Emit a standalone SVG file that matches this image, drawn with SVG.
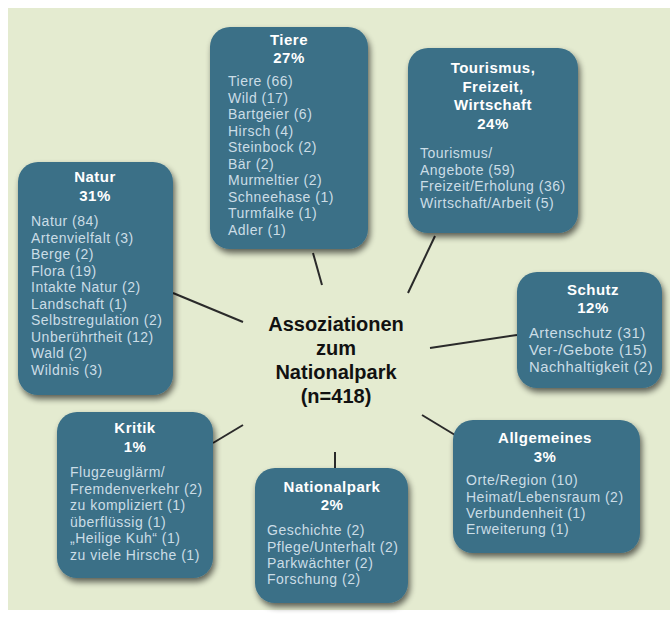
<svg xmlns="http://www.w3.org/2000/svg" width="670" height="621" viewBox="0 0 670 621">
<defs>
<filter id="sh" x="-10%" y="-10%" width="125%" height="125%">
<feGaussianBlur in="SourceAlpha" stdDeviation="3"/>
<feOffset dx="2" dy="4" result="b"/>
<feComponentTransfer><feFuncA type="linear" slope="0.6"/></feComponentTransfer>
<feMerge><feMergeNode/><feMergeNode in="SourceGraphic"/></feMerge>
</filter>
</defs>
<style>
.box{fill:#3a6f87;filter:url(#sh)}
.t{font-family:"Liberation Sans",Arial,sans-serif;font-weight:bold;font-size:15px;fill:#ffffff;text-anchor:middle;letter-spacing:0.5px}
.i{font-family:"Liberation Sans",Arial,sans-serif;font-size:14px;fill:#cbdde6;letter-spacing:0.5px}
.s{font-size:14.8px}
.c{font-family:"Liberation Sans",Arial,sans-serif;font-weight:bold;font-size:20px;fill:#111111;text-anchor:middle}
.ln{stroke:#2a2a2a;stroke-width:2;fill:none}
</style>
<rect x="0" y="0" width="670" height="621" fill="#ffffff"/>
<rect x="8" y="8" width="662" height="602" fill="#e4ebd0"/>

<g id="connectors">
<line class="ln" x1="313" y1="253" x2="322" y2="285"/>
<line class="ln" x1="435" y1="236" x2="408" y2="293"/>
<line class="ln" x1="173" y1="293" x2="243" y2="322"/>
<line class="ln" x1="430" y1="348" x2="517" y2="335"/>
<line class="ln" x1="213" y1="443" x2="243" y2="425"/>
<line class="ln" x1="335" y1="452" x2="335" y2="470"/>
<line class="ln" x1="422" y1="415" x2="455" y2="435"/>
</g>

<g id="center">
<text class="c" x="336" y="331">Assoziationen</text>
<text class="c" x="336" y="355">zum</text>
<text class="c" x="336" y="379">Nationalpark</text>
<text class="c" x="336" y="403">(n=418)</text>
</g>

<g id="tiere">
<rect class="box" x="210" y="27" width="158" height="222" rx="20"/>
<text class="t" x="289" y="45">Tiere</text>
<text class="t" x="289" y="63">27%</text>
<text class="i" x="228" y="86">Tiere (66)</text>
<text class="i" x="228" y="102.5">Wild (17)</text>
<text class="i" x="228" y="119">Bartgeier (6)</text>
<text class="i" x="228" y="135.5">Hirsch (4)</text>
<text class="i" x="228" y="152">Steinbock (2)</text>
<text class="i" x="228" y="168.5">Bär (2)</text>
<text class="i" x="228" y="185">Murmeltier (2)</text>
<text class="i" x="228" y="201.5">Schneehase (1)</text>
<text class="i" x="228" y="218">Turmfalke (1)</text>
<text class="i" x="228" y="234.5">Adler (1)</text>
</g>

<g id="tourismus">
<rect class="box" x="408" y="48" width="170" height="185" rx="20"/>
<text class="t" x="493" y="73">Tourismus,</text>
<text class="t" x="493" y="91.5">Freizeit,</text>
<text class="t" x="493" y="110">Wirtschaft</text>
<text class="t" x="493" y="128.5">24%</text>
<text class="i" x="420" y="158">Tourismus/</text>
<text class="i" x="420" y="174.5">Angebote (59)</text>
<text class="i" x="420" y="191">Freizeit/Erholung (36)</text>
<text class="i" x="420" y="207.5">Wirtschaft/Arbeit (5)</text>
</g>

<g id="natur">
<rect class="box" x="18" y="162" width="155" height="233" rx="20"/>
<text class="t" x="95" y="182">Natur</text>
<text class="t" x="95" y="201">31%</text>
<text class="i" x="31" y="226">Natur (84)</text>
<text class="i" x="31" y="242.5">Artenvielfalt (3)</text>
<text class="i" x="31" y="259">Berge (2)</text>
<text class="i" x="31" y="275.5">Flora (19)</text>
<text class="i" x="31" y="292">Intakte Natur (2)</text>
<text class="i" x="31" y="308.5">Landschaft (1)</text>
<text class="i" x="31" y="325">Selbstregulation (2)</text>
<text class="i" x="31" y="341.5">Unberührtheit (12)</text>
<text class="i" x="31" y="358">Wald (2)</text>
<text class="i" x="31" y="374.5">Wildnis (3)</text>
</g>

<g id="schutz">
<rect class="box" x="517" y="272" width="145" height="116" rx="20"/>
<text class="t" x="593" y="295">Schutz</text>
<text class="t" x="593" y="313">12%</text>
<text class="i s" x="529" y="338">Artenschutz (31)</text>
<text class="i s" x="529" y="355">Ver-/Gebote (15)</text>
<text class="i s" x="529" y="372">Nachhaltigkeit (2)</text>
</g>

<g id="kritik">
<rect class="box" x="57" y="412" width="156" height="166" rx="20"/>
<text class="t" x="135" y="433">Kritik</text>
<text class="t" x="135" y="452">1%</text>
<text class="i" x="70" y="477">Flugzeuglärm/</text>
<text class="i" x="70" y="493.5">Fremdenverkehr (2)</text>
<text class="i" x="70" y="510">zu kompliziert (1)</text>
<text class="i" x="70" y="526.5">überflüssig (1)</text>
<text class="i" x="70" y="543">„Heilige Kuh“ (1)</text>
<text class="i" x="70" y="559.5">zu viele Hirsche (1)</text>
</g>

<g id="nationalpark">
<rect class="box" x="255" y="468" width="153" height="135" rx="20"/>
<text class="t" x="332" y="492">Nationalpark</text>
<text class="t" x="332" y="510">2%</text>
<text class="i" x="267" y="535">Geschichte (2)</text>
<text class="i" x="267" y="551.5">Pflege/Unterhalt (2)</text>
<text class="i" x="267" y="568">Parkwächter (2)</text>
<text class="i" x="267" y="584">Forschung (2)</text>
</g>

<g id="allgemeines">
<rect class="box" x="453" y="420" width="187" height="133" rx="20"/>
<text class="t" x="545" y="443">Allgemeines</text>
<text class="t" x="545" y="462">3%</text>
<text class="i" x="466" y="485">Orte/Region (10)</text>
<text class="i" x="466" y="501.5">Heimat/Lebensraum (2)</text>
<text class="i" x="466" y="518">Verbundenheit (1)</text>
<text class="i" x="466" y="534">Erweiterung (1)</text>
</g>
</svg>
